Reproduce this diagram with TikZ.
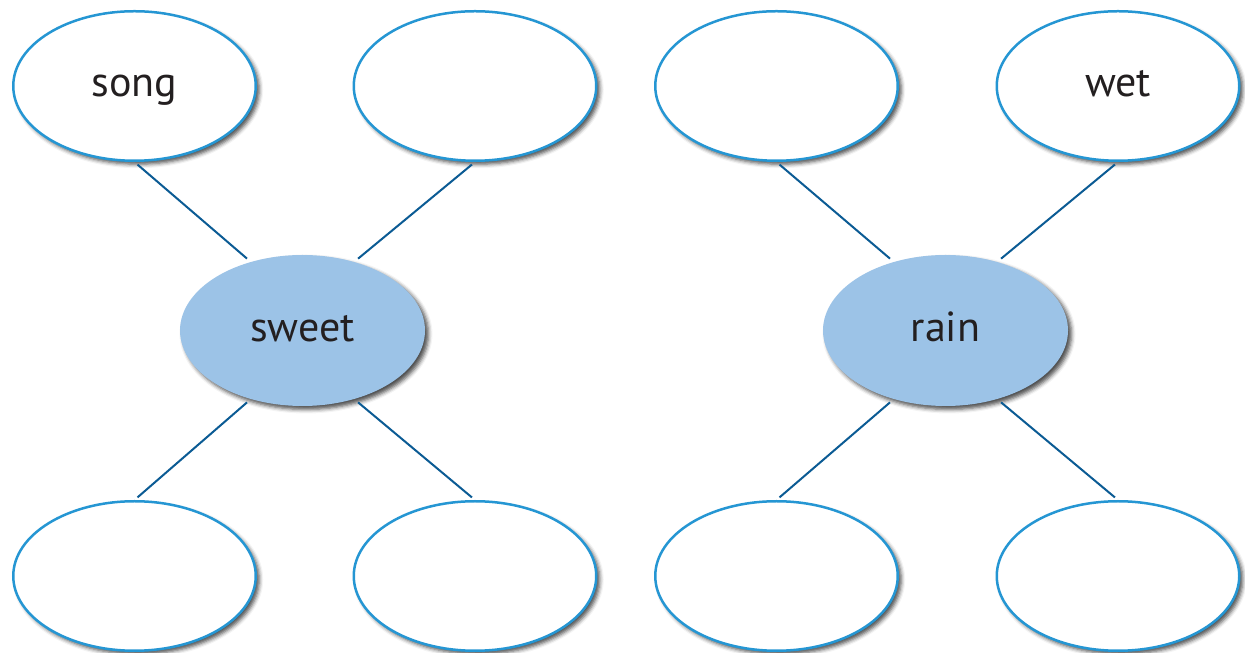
\documentclass[tikz,border=0pt]{standalone}
\usepackage{fontspec}
\setmainfont{PT Sans}
\usetikzlibrary{shapes.geometric,shadows.blur}
\definecolor{rimblue}{HTML}{2596D3}
\definecolor{hubfill}{HTML}{9CC3E7}
\definecolor{linkblue}{HTML}{0B5B94}
\definecolor{inktext}{HTML}{231F20}
\tikzset{
  bubble/.style={ellipse, draw=rimblue, line width=2.5pt, fill=white,
    minimum width=242.5pt, minimum height=149.5pt, inner sep=0pt,
    text height=22pt, text depth=0pt, font=\fontsize{42}{50}\selectfont, text=inktext,
    blur shadow={shadow xshift=3.5pt, shadow yshift=-3.5pt, shadow blur radius=4pt, shadow opacity=70}},
  hub/.style={ellipse, fill=hubfill, draw=none,
    minimum width=245pt, minimum height=151pt, inner sep=0pt,
    text height=22pt, text depth=0pt, font=\fontsize{42}{50}\selectfont, text=inktext,
    blur shadow={shadow xshift=3.5pt, shadow yshift=-3.5pt, shadow blur radius=4pt, shadow opacity=70}},
  link/.style={draw=linkblue, line width=2pt, shorten <=4pt, shorten >=5pt}
}
\begin{document}
\begin{tikzpicture}[x=1pt,y=1pt]
\useasboundingbox (0,0) rectangle (1245,653);
% left group
\node[bubble] (a1) at (134.5,567) {song};
\node[bubble] (a2) at (475,567) {};
\node[bubble] (b1) at (134.5,77) {};
\node[bubble] (b2) at (475,77) {};
\node[hub] (sweet) at (302.5,322.5) {sweet};
% right group
\node[bubble] (a3) at (776.5,567) {};
\node[bubble] (a4) at (1118,567) {wet};
\node[bubble] (b3) at (776.5,77) {};
\node[bubble] (b4) at (1118,77) {};
\node[hub] (rain) at (945.5,322.5) {rain};
% connectors
\draw[link] (a1.south) -- (sweet.127);
\draw[link] (a2.south) -- (sweet.53);
\draw[link] (b1.north) -- (sweet.233);
\draw[link] (b2.north) -- (sweet.307);
\draw[link] (a3.south) -- (rain.127);
\draw[link] (a4.south) -- (rain.53);
\draw[link] (b3.north) -- (rain.233);
\draw[link] (b4.north) -- (rain.307);
\end{tikzpicture}
\end{document}
